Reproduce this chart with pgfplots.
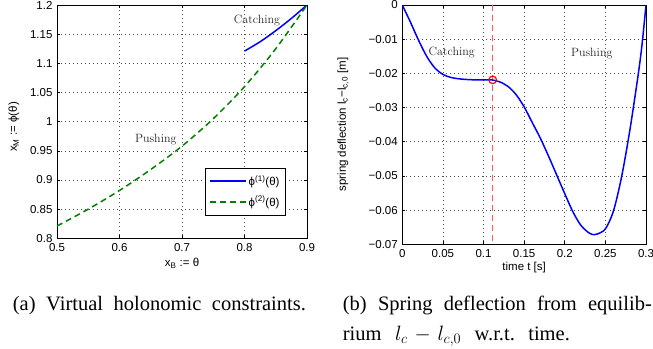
\documentclass[border=0pt]{standalone}
\usepackage[no-math]{fontspec}
\setmainfont{Liberation Serif}
\setsansfont{Liberation Sans}
\newfontfamily\lmfont{Latin Modern Roman}
\usepackage{pgfplots}
\pgfplotsset{compat=1.18}
\definecolor{mgreen}{rgb}{0,0.5,0}
\newcommand{\tfont}{\sffamily\fontsize{11.5}{12}\selectfont}
\pgfplotsset{
  mstyle/.style={
    scale only axis,
    axis line style={line width=0.9pt},
    tick align=inside,
    major tick length=3pt,
    tick style={line width=0.6pt, black},
    grid=major,
    major grid style={black!70, line width=0.6pt, dash pattern=on 0.7pt off 3.3pt},
    ticklabel style={font=\tfont},
    label style={font=\tfont},
    xticklabel style={yshift=-1.5pt},
    yticklabel style={xshift=-1pt},
  }
}
\begin{document}
\frenchspacing
\begin{tikzpicture}[x=1pt,y=1pt]
% ---------------- left axis ----------------
\begin{axis}[mstyle,
  at={(57pt,109.7pt)}, anchor=south west,
  width=250pt, height=233.3pt,
  xmin=0.5, xmax=0.9, ymin=0.8, ymax=1.2,
  xtick={0.5,0.6,0.7,0.8,0.9},
  xticklabels={0.5,0.6,0.7,0.8,0.9},
  ytick={0.8,0.85,0.9,0.95,1,1.05,1.1,1.15,1.2},
  yticklabels={0.8,0.85,0.9,0.95,1,1.05,1.1,1.15,1.2},
  xlabel={x\textsubscript{B} := θ},
  ylabel={x\textsubscript{M} := ϕ(θ)},
  xlabel style={at={(axis description cs:0.5,-0.121)}, anchor=base},
  ylabel style={at={(axis description cs:-0.172,0.477)}, anchor=center},
  legend style={at={(axis description cs:0.592,0.1)}, anchor=south west,
    font=\tfont, draw=black, inner xsep=4pt, inner ysep=5pt,
    row sep=5pt},
  legend cell align=left,
  legend image code/.code={\draw[#1] (0pt,0pt) -- (36pt,0pt);},
]
\addplot[blue, line width=1.5pt, smooth] coordinates {
 (0.8,1.121) (0.825,1.137) (0.85,1.156) (0.875,1.177) (0.9,1.2)};
\addlegendentry{ϕ\textsuperscript{(1)}(θ)}
\addplot[mgreen, line width=1.5pt, smooth, dash pattern=on 6pt off 4pt] coordinates {
 (0.5,0.821) (0.55,0.850) (0.6,0.882) (0.65,0.918) (0.7,0.958)
 (0.75,1.005) (0.8,1.060) (0.85,1.125) (0.9,1.2)};
\addlegendentry{ϕ\textsuperscript{(2)}(θ)}
\node[font=\lmfont\fontsize{12}{12}\selectfont, text=black!85] at (axis cs:0.82,1.174) {Catching};
\node[font=\lmfont\fontsize{12}{12}\selectfont, text=black!85] at (axis cs:0.658,0.969) {Pushing};
\end{axis}
% ---------------- right axis ----------------
\begin{axis}[mstyle,
  at={(402.3pt,103.7pt)}, anchor=south west,
  width=243.7pt, height=239.3pt,
  xmin=0, xmax=0.3, ymin=-0.07, ymax=0,
  xtick={0,0.05,0.1,0.15,0.2,0.25,0.3},
  xticklabels={0,0.05,0.1,0.15,0.2,0.25,0.3},
  ytick={-0.07,-0.06,-0.05,-0.04,-0.03,-0.02,-0.01,0},
  yticklabels={−0.07,−0.06,−0.05,−0.04,−0.03,−0.02,−0.01,0},
  xlabel={time t [s]},
  ylabel={spring deflection l\textsubscript{c}−l\textsubscript{c,0} [m]},
  xlabel style={at={(axis description cs:0.5,-0.11)}, anchor=base},
  ylabel style={at={(axis description cs:-0.243,0.5)}, anchor=center},
]
\addplot[red!65, line width=1.1pt, dash pattern=on 6pt off 4pt] coordinates {(0.1113,0) (0.1113,-0.07)};
\addplot[blue, line width=1.5pt, smooth] coordinates {
 (0,0) (0.005,-0.0025) (0.01,-0.0050) (0.02,-0.0103) (0.03,-0.0150) (0.04,-0.0184)
 (0.05,-0.0203) (0.06,-0.0212) (0.07,-0.0216) (0.08,-0.0218) (0.09,-0.0219)
 (0.10,-0.0219) (0.11,-0.0219) (0.12,-0.0225) (0.13,-0.0238) (0.14,-0.0262)
 (0.15,-0.0298) (0.16,-0.0344) (0.17,-0.0390) (0.18,-0.0442) (0.19,-0.0497)
 (0.20,-0.0552) (0.21,-0.0605) (0.22,-0.0645) (0.23,-0.0667) (0.236,-0.0672)
 (0.24,-0.0670) (0.25,-0.0655) (0.26,-0.0602) (0.27,-0.0502) (0.28,-0.0368)
 (0.29,-0.0210) (0.295,-0.0118) (0.3,0)};
\addplot[only marks, mark=o, red, mark size=3.8pt, line width=1.2pt] coordinates {(0.1113,-0.0219)};
\node[font=\lmfont\fontsize{12}{12}\selectfont, text=black!85] at (axis cs:0.0608,-0.0140) {Catching};
\node[font=\lmfont\fontsize{12}{12}\selectfont, text=black!85] at (axis cs:0.2332,-0.0143) {Pushing};
\end{axis}
% ---------------- captions ----------------
\node[anchor=base west, inner sep=0pt, font=\fontsize{20.5}{24}\selectfont] at (12.7pt,37.3pt)
  {\makebox[293pt][s]{(a) Virtual holonomic constraints.}};
\node[anchor=base west, inner sep=0pt, font=\fontsize{20.5}{24}\selectfont] at (342.7pt,37.3pt)
  {\makebox[309pt][s]{(b) Spring deflection from equilib-}};
\node[anchor=base west, inner sep=0pt, font=\fontsize{20.5}{24}\selectfont] at (342.7pt,7.3pt)
  {\makebox[227pt][s]{rium \mbox{$l_c \mskip2mu - \mskip2mu l_{c,0}$} w.r.t. time.}};
\pgfresetboundingbox
\useasboundingbox (0,0) rectangle (653pt,348pt);
\end{tikzpicture}
\end{document}
